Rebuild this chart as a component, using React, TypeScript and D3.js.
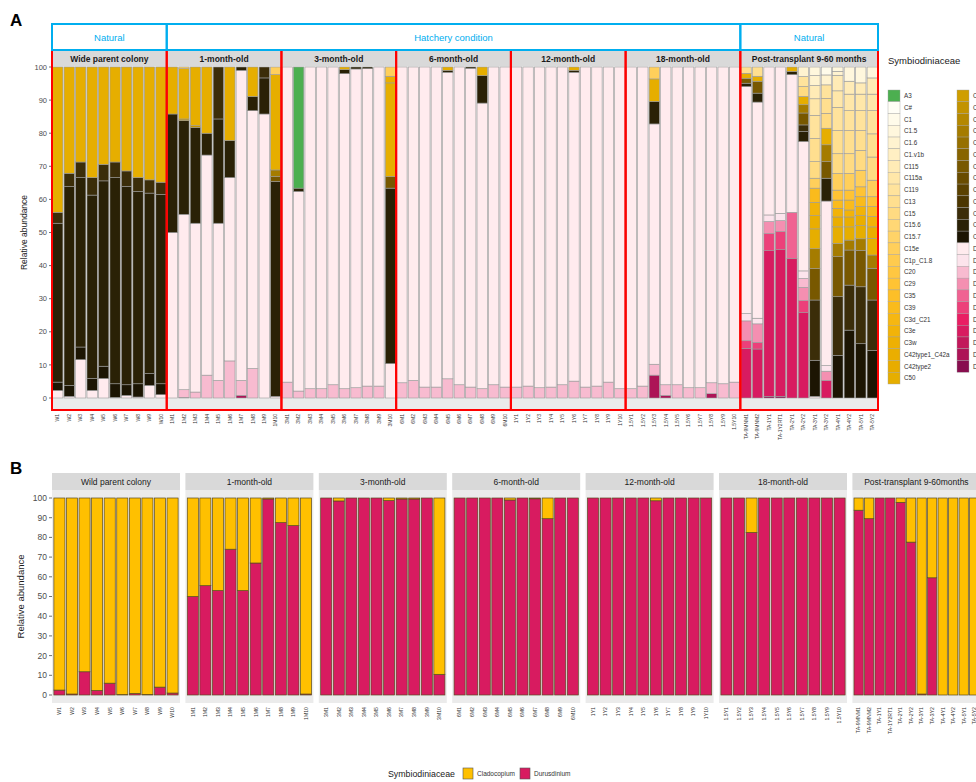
import React from "react";
import * as d3 from "d3";

const FONT = "'Liberation Sans', Arial, Helvetica, sans-serif";

// ---------- Legend (taxa) ----------
const legendCol1 = ["A3", "C#", "C1", "C1.5", "C1.6", "C1.v1b", "C115", "C115a", "C119", "C13", "C15", "C15.6", "C15.7", "C15e", "C1p_C1.8", "C20", "C29", "C35", "C39", "C3d_C21", "C3e", "C3w", "C42type1_C42a", "C42type2", "C50"];
const legendCol1Colors = ["#4CAF50", "#FFFEF6", "#FFFBEA", "#FFF7DD", "#FFF3D0", "#FFEFC3", "#FFEBB6", "#FFE7A9", "#FFE39C", "#FFDF8F", "#FFDB82", "#FFD775", "#FFD368", "#FFCF5B", "#FFCB4E", "#FFC741", "#FFC334", "#FDBF28", "#FABB1C", "#F6B711", "#F2B308", "#EEB003", "#EAAE00", "#E8AC00", "#E6AE00"];
const legendCol2 = ["C50a", "C6", "C65", "C66", "C7", "C72", "C78", "C8", "C8a", "C90", "C91", "C93", "C95", "D1", "D1a", "D1.4", "D1.6", "D2", "D2.2", "D4", "D4a", "D5", "D6", "D8"];
const legendCol2Colors = ["#CF9E00", "#C29300", "#B48800", "#A57C00", "#967000", "#876400", "#785800", "#694C00", "#5A4100", "#4B3600", "#3B2D09", "#2A2106", "#1C1503", "#FFEBEE", "#FCE4EC", "#F8BBD0", "#F48FB1", "#F06292", "#EC407A", "#E91E63", "#D81B60", "#C2185B", "#AD1457", "#880E4F"];

// ---------- Groups ----------
const groupNamesA = ["Wide parent colony", "1-month-old", "3-month-old", "6-month-old", "12-month-old", "18-month-old", "Post-transplant 9-60 months"];
const groupNamesB = ["Wild parent colony", "1-month-old", "3-month-old", "6-month-old", "12-month-old", "18-month-old", "Post-transplant 9-60months"];
const conditionLabels = ["Natural", "Hatchery condition", "Natural"];

// ---------- Samples ----------
const wildSamples = ["W1", "W2", "W3", "W4", "W5", "W6", "W7", "W8", "W9", "W10"];
const m1Samples = ["1M1", "1M2", "1M3", "1M4", "1M5", "1M6", "1M7", "1M8", "1M9", "1M10"];
const m3Samples = ["3M1", "3M2", "3M3", "3M4", "3M5", "3M6", "3M7", "3M8", "3M9", "3M10"];
const m6Samples = ["6M1", "6M2", "6M3", "6M4", "6M5", "6M6", "6M7", "6M8", "6M9", "6M10"];
const m12Samples = ["1Y1", "1Y2", "1Y3", "1Y4", "1Y5", "1Y6", "1Y7", "1Y8", "1Y9", "1Y10"];
const m18Samples = ["1.5Y1", "1.5Y2", "1.5Y3", "1.5Y4", "1.5Y5", "1.5Y6", "1.5Y7", "1.5Y8", "1.5Y9", "1.5Y10"];
const postSamples = ["TA-9MNM1", "TA-9MNM2", "TA-1Y1", "TA-1Y2RT1", "TA-2Y1", "TA-2Y2", "TA-3Y1", "TA-3Y2", "TA-4Y1", "TA-4Y2", "TA-5Y1", "TA-5Y2"];

type Seg = [string, number];

// ---------- Panel A: ITS2 type profiles (bottom to top) ----------
const wildComp: Seg[][] = [
  [["D1", 2.3], ["C95", 2.5], ["C93", 48], ["C91", 3.3], ["C50", 43.9]],
  [["D1", 0.5], ["C95", 3.3], ["C93", 60.1], ["C91", 4], ["C50", 32.1]],
  [["D1", 11.6], ["C95", 3.8], ["C93", 51.2], ["C91", 4.7], ["C50", 28.7]],
  [["D1", 2.3], ["C95", 3.6], ["C93", 55.4], ["C91", 5.3], ["C50", 33.4]],
  [["D1", 5.9], ["C95", 3.7], ["C93", 56], ["C91", 5], ["C50", 29.4]],
  [["D1", 0.2], ["C95", 4.1], ["C93", 62.3], ["C91", 4.7], ["C50", 28.7]],
  [["D1", 0.8], ["C95", 3.2], ["C93", 59.9], ["C91", 4.7], ["C50", 31.4]],
  [["D1", 0.3], ["C95", 4], ["C93", 58.1], ["C91", 4.2], ["C50", 33.4]],
  [["D1", 3.8], ["C95", 3.6], ["C93", 54.5], ["C91", 4], ["C50", 34.1]],
  [["D1", 1], ["C95", 3.3], ["C93", 57.2], ["C91", 3.7], ["C50", 34.8]],
];
const m1Comp: Seg[][] = [
  [["D1", 50], ["C93", 35.8], ["C50", 14.2]],
  [["D6", 0.2], ["D1.4", 2.3], ["D1", 53], ["C93", 28.3], ["C6", 0.5], ["C50", 15.2], ["C15e", 0.5]],
  [["D1.4", 1.8], ["D1", 51], ["C93", 28.9], ["C6", 0.6], ["C50", 17.7]],
  [["D1.4", 6.9], ["D1", 66.5], ["C93", 6.6], ["C50", 20]],
  [["D1.4", 5.3], ["D1", 47.5], ["C93", 31.5], ["C91", 15.7]],
  [["D1.4", 11.2], ["D1", 55.4], ["C93", 11.2], ["C50", 22.2]],
  [["D6", 0.8], ["D1.4", 4.5], ["D1", 93.7], ["C93", 1]],
  [["D1.4", 8.9], ["D1", 77.9], ["C93", 4.3], ["C50", 8.9]],
  [["D1", 85.8], ["C93", 10.9], ["C91", 3.3]],
  [["D1", 0.5], ["C93", 64.9], ["C78", 1.5], ["C66", 2], ["C50", 28.8], ["C15e", 2.3]],
];
const m3Comp: Seg[][] = [
  [["D1.4", 4.8], ["D1", 95.2]],
  [["D1.4", 2.1], ["D1", 60.3], ["C93", 1], ["A3", 36.6]],
  [["D1.4", 2.8], ["D1", 97.2]],
  [["D1.4", 2.8], ["D1", 97.2]],
  [["D1.4", 4], ["D1", 96]],
  [["D1.4", 2.8], ["D1", 95.2], ["C93", 1.2], ["C50", 0.8]],
  [["D1.4", 3.1], ["D1", 96.3], ["C93", 0.6]],
  [["D1.4", 3.6], ["D1", 95.9], ["C93", 0.5]],
  [["D1.4", 3.6], ["D1", 96.4]],
  [["D1", 10.4], ["C93", 53], ["C78", 3.5], ["C50", 28.3], ["C42type1_C42a", 2], ["C15e", 2.8]],
];
const m6Comp: Seg[][] = [
  [["D1.4", 4.6], ["D1", 95.4]],
  [["D1.4", 5.3], ["D1", 94.7]],
  [["D1.4", 3.3], ["D1", 96.7]],
  [["D1.4", 3.3], ["D1", 96.7]],
  [["D1.4", 5.8], ["D1", 92.6], ["C93", 0.6], ["C50", 1]],
  [["D1.4", 4], ["D1", 96]],
  [["D1.4", 3.3], ["D1", 96.3], ["C93", 0.4]],
  [["D1.4", 2.8], ["D1", 86.3], ["C93", 8.3], ["C50", 2.6]],
  [["D1.4", 4], ["D1", 96]],
  [["D1.4", 3.3], ["D1", 96.7]],
];
const m12Comp: Seg[][] = [
  [["D1.4", 3.3], ["D1", 96.7]],
  [["D1.4", 3.6], ["D1", 96.4]],
  [["D1.4", 3.1], ["D1", 96.9]],
  [["D1.4", 3.3], ["D1", 96.7]],
  [["D1.4", 4], ["D1", 96]],
  [["D1.4", 5.1], ["D1", 93.3], ["C93", 0.6], ["C50", 1]],
  [["D1.4", 3.3], ["D1", 96.7]],
  [["D1.4", 3.6], ["D1", 96.4]],
  [["D1.4", 4.8], ["D1", 95.2]],
  [["D1.4", 2.8], ["D1", 97.2]],
];
const m18Comp: Seg[][] = [
  [["D1.4", 2.8], ["D1", 97.2]],
  [["D1.4", 3.6], ["D1", 96.4]],
  [["D6", 6.9], ["D1.4", 3.3], ["D1", 72.6], ["C93", 6.8], ["C50", 6.8], ["C15e", 3.6]],
  [["D6", 0.8], ["D1.4", 3.2], ["D1", 96]],
  [["D1.4", 4], ["D1", 96]],
  [["D1.4", 3.1], ["D1", 96.9]],
  [["D1.4", 3.1], ["D1", 96.9]],
  [["D6", 1.3], ["D1.4", 3.3], ["D1", 95.4]],
  [["D1.4", 4.3], ["D1", 95.7]],
  [["D1.4", 4.8], ["D1", 95.2]],
];
const postComp: Seg[][] = [
  [["D4a", 15], ["D2.2", 2.3], ["D1.6", 6], ["D1a", 2.2], ["D1", 68.6], ["C93", 1], ["C78", 1.5], ["C50", 1.5], ["C13", 1.9]],
  [["D4a", 14.8], ["D2.2", 2], ["D1.6", 5.6], ["D1a", 1.7], ["D1", 65.3], ["C93", 2.7], ["C78", 3.6], ["C50", 1.5], ["C13", 2.8]],
  [["D8", 0.5], ["D4a", 44], ["D2.2", 5.2], ["D1.6", 3.6], ["D1a", 2], ["D1", 44.7]],
  [["D8", 0.5], ["D4a", 44.3], ["D2.2", 5.5], ["D1.6", 3.3], ["D1a", 2.2], ["D1", 44.2]],
  [["D4a", 42.2], ["D2", 13.9], ["D1", 41.6], ["C93", 1], ["C50", 1.3]],
  [["D4a", 25.8], ["D2.2", 3.6], ["D1.6", 4], ["D1.4", 2.7], ["D1a", 2.3], ["D1", 39.1], ["C93", 3], ["C91", 2], ["C78", 3.6], ["C66", 2.5], ["C50", 2.5], ["C15", 3], ["C119", 3], ["C1.6", 2.9]],
  [["D1", 0.5], ["C95", 10.9], ["C91", 18.2], ["C78", 9.5], ["C66", 6], ["C50", 6], ["C42type1_C42a", 4], ["C3e", 4], ["C39", 4.3], ["C15e", 3], ["C15", 5], ["C13", 7], ["C119", 7], ["C115a", 5], ["C115", 4], ["C1.6", 3], ["C1.5", 2.6]],
  [["D4a", 5.3], ["D1.6", 2.8], ["D1a", 1.7], ["D1", 49.7], ["C93", 6.9], ["C78", 5], ["C66", 5.1], ["C50", 5], ["C15", 4.5], ["C13", 4.5], ["C119", 4.1], ["C1.6", 3], ["C1", 2.4]],
  [["C95", 12.9], ["C91", 17.7], ["C78", 12.1], ["C66", 4], ["C50", 5], ["C42type1_C42a", 3], ["C3e", 2.6], ["C39", 2.5], ["C29", 3], ["C15e", 5], ["C15", 6], ["C13", 7], ["C119", 7], ["C115a", 5], ["C115", 4.7], ["C1.6", 1.2], ["C1.5", 1.3]],
  [["C95", 20.5], ["C91", 13.6], ["C78", 10.6], ["C66", 3], ["C50", 4], ["C42type1_C42a", 3], ["C3e", 2.1], ["C39", 3], ["C29", 3], ["C15e", 5], ["C15", 6], ["C13", 7], ["C119", 6], ["C115a", 5], ["C115", 3.9], ["C1.5", 4.3]],
  [["C95", 16.4], ["C91", 17.2], ["C78", 11], ["C66", 3.5], ["C50", 4], ["C42type1_C42a", 3], ["C3e", 2.7], ["C39", 3], ["C29", 3], ["C15e", 5], ["C15", 6], ["C13", 6], ["C119", 6], ["C115a", 5], ["C115", 3.4], ["C1.5", 4.8]],
  [["C95", 14.4], ["C91", 15.2], ["C78", 9.6], ["C66", 4], ["C50", 5], ["C42type1_C42a", 3.5], ["C3e", 3.1], ["C39", 3], ["C29", 3], ["C15e", 5], ["C15", 7], ["C13", 7], ["C119", 7], ["C115a", 5], ["C115", 4.9], ["C1.5", 3.3]],
];

// ---------- Panel B: genus-level relative abundance (Durusdinium %) ----------
const genera = ["Cladocopium", "Durusdinium"];
const genusColors = ["#FFC000", "#D81B60"];
const wildDurus = [2.5, 0.5, 11.8, 2.3, 6, 0.2, 0.8, 0.3, 4, 1];
const m1Durus = [50, 55.5, 53, 74, 53, 67, 99.5, 87.5, 86, 0.5];
const m3Durus = [100, 98.5, 100, 100, 100, 98.7, 99.5, 99.5, 100, 10.5];
const m6Durus = [100, 100, 100, 100, 99, 100, 99.6, 89.5, 100, 100];
const m12Durus = [100, 100, 100, 100, 100, 98.6, 100, 100, 100, 100];
const m18Durus = [100, 100, 82.5, 100, 100, 100, 100, 100, 100, 100];
const postDurus = [93.8, 89.5, 100, 100, 97.8, 77.6, 0.5, 59.5, 0, 0, 0, 0];

const yTicks = [0, 10, 20, 30, 40, 50, 60, 70, 80, 90, 100];

const taxa = [...legendCol1, ...legendCol2];
const taxaColors = [...legendCol1Colors, ...legendCol2Colors];

export default function App() {
  const color = d3.scaleOrdinal<string, string>().domain(taxa).range(taxaColors);
  const genusColor = d3.scaleOrdinal<string, string>().domain(genera).range(genusColors);

  const groups = [
    { a: groupNamesA[0], b: groupNamesB[0], samples: wildSamples, comp: wildComp, durus: wildDurus },
    { a: groupNamesA[1], b: groupNamesB[1], samples: m1Samples, comp: m1Comp, durus: m1Durus },
    { a: groupNamesA[2], b: groupNamesB[2], samples: m3Samples, comp: m3Comp, durus: m3Durus },
    { a: groupNamesA[3], b: groupNamesB[3], samples: m6Samples, comp: m6Comp, durus: m6Durus },
    { a: groupNamesA[4], b: groupNamesB[4], samples: m12Samples, comp: m12Comp, durus: m12Durus },
    { a: groupNamesA[5], b: groupNamesB[5], samples: m18Samples, comp: m18Comp, durus: m18Durus },
    { a: groupNamesA[6], b: groupNamesB[6], samples: postSamples, comp: postComp, durus: postDurus },
  ];

  // ---------- Panel A scales ----------
  const allSamples = groups.flatMap((g) => g.samples);
  const xA = d3.scaleBand<string>().domain(allSamples).range([52, 878]).paddingInner(0.1).paddingOuter(0.05);
  const yA = d3.scaleLinear().domain([0, 100]).range([398, 67]);
  const bwA = xA.bandwidth();
  const gapA = xA.step() - bwA;
  const bounds = groups.map((g, gi) => {
    const left = gi === 0 ? xA.range()[0] : (xA(g.samples[0]) as number) - gapA / 2;
    const right = gi === groups.length - 1 ? xA.range()[1] : (xA(g.samples[g.samples.length - 1]) as number) + bwA + gapA / 2;
    return [left, right];
  });

  const rows = groups.flatMap((g) =>
    g.samples.map((s, i) => {
      const r: any = { sample: s };
      g.comp[i].forEach(([k, v]) => (r[k] = (r[k] || 0) + v));
      return r;
    })
  );
  const stackKeys = taxa.slice().reverse();
  const series = d3.stack<any>().keys(stackKeys).value((d: any, k: string) => d[k] || 0)(rows);

  const condSpans = [
    [bounds[0][0], bounds[0][1]],
    [bounds[1][0], bounds[5][1]],
    [bounds[6][0], bounds[6][1]],
  ];

  // ---------- Panel B scales ----------
  const yB = d3.scaleLinear().domain([0, 100]).range([695, 498]);
  const panelBW = 128;
  const panelBStep = 133.4;
  const xPanelB = d3.scaleLinear().domain([0, 1]).range([52, 52 + panelBStep]);

  const legStep = 11.76;
  const legY0 = 90;

  return (
    <div style={{ position: "absolute", left: 0, top: 0 }}>
      <svg width={976} height={782} style={{ display: "block", background: "#fff", fontFamily: FONT }}>
        {/* ---------- Panel A ---------- */}
        <text x={10} y={26} fontSize={17} fontWeight="bold" fill="#000">A</text>

        <rect x={52} y={66} width={826} height={344} fill="#EBEBEB" />

        {groups.map((g, gi) => (
          <g key={"sa" + gi}>
            <rect x={bounds[gi][0]} y={51} width={bounds[gi][1] - bounds[gi][0]} height={15} fill="#D9D9D9" />
            <text x={(bounds[gi][0] + bounds[gi][1]) / 2} y={62} fontSize={8.5} fontWeight="bold" fill="#1a1a1a" textAnchor="middle">
              {g.a}
            </text>
          </g>
        ))}

        {series.map((s) =>
          s.map((d, i) => {
            const h = yA(d[0]) - yA(d[1]);
            if (!(d[1] - d[0] > 0)) return null;
            return (
              <rect
                key={s.key + "-" + i}
                x={xA(rows[i].sample)}
                y={yA(d[1])}
                width={bwA}
                height={h}
                fill={color(s.key as string)}
                stroke="#9a9a9a"
                strokeWidth={0.6}
              />
            );
          })
        )}

        {yTicks.map((t) => (
          <g key={"ya" + t}>
            <line x1={49} x2={52} y1={yA(t)} y2={yA(t)} stroke="#333" strokeWidth={0.7} />
            <text x={47} y={yA(t)} dy="0.35em" fontSize={7.5} fill="#4d4d4d" textAnchor="end">{t}</text>
          </g>
        ))}
        <text transform={`translate(27,${(yA(0) + yA(100)) / 2}) rotate(-90)`} fontSize={8.5} fill="#1a1a1a" textAnchor="middle">
          Relative abundance
        </text>

        {allSamples.map((s) => (
          <text
            key={"xa" + s}
            transform={`translate(${(xA(s) as number) + bwA / 2},414) rotate(-90)`}
            dy="0.35em"
            fontSize={5}
            fill="#333"
            textAnchor="end"
          >
            {s}
          </text>
        ))}

        {bounds.map((b, gi) => (
          <rect key={"rf" + gi} x={b[0]} y={50} width={b[1] - b[0]} height={360} fill="none" stroke="#FF0000" strokeWidth={2} />
        ))}

        {condSpans.map((c, ci) => (
          <g key={"cb" + ci}>
            <rect x={c[0]} y={24} width={c[1] - c[0]} height={26} fill="none" stroke="#00AEEF" strokeWidth={2} />
            <text x={(c[0] + c[1]) / 2} y={41} fontSize={9.5} fill="#00AEEF" textAnchor="middle">
              {conditionLabels[ci]}
            </text>
          </g>
        ))}

        <text x={888} y={64} fontSize={9.5} fill="#1a1a1a">Symbiodiniaceae</text>
        {legendCol1.map((k, i) => (
          <g key={"l1" + k}>
            <rect x={888} y={legY0 + i * legStep} width={12} height={legStep} fill={color(k)} stroke="#a0a0a0" strokeWidth={0.4} />
            <text x={904} y={legY0 + i * legStep + legStep / 2} dy="0.35em" fontSize={6.3} fill="#333">{k}</text>
          </g>
        ))}
        {legendCol2.map((k, i) => (
          <g key={"l2" + k}>
            <rect x={957} y={legY0 + i * legStep} width={12} height={legStep} fill={color(k)} stroke="#a0a0a0" strokeWidth={0.4} />
            <text x={973} y={legY0 + i * legStep + legStep / 2} dy="0.35em" fontSize={6.3} fill="#333">{k}</text>
          </g>
        ))}

        {/* ---------- Panel B ---------- */}
        <text x={10} y={474} fontSize={17} fontWeight="bold" fill="#000">B</text>

        {groups.map((g, gi) => {
          const x0 = xPanelB(gi);
          const xb = d3.scaleBand<string>().domain(g.samples).range([x0, x0 + panelBW]).paddingInner(0.12).paddingOuter(0.15);
          const bw = xb.bandwidth();
          const rowsB = g.samples.map((s, i) => ({ sample: s, Durusdinium: g.durus[i], Cladocopium: 100 - g.durus[i] }));
          const stB = d3.stack<any>().keys(["Durusdinium", "Cladocopium"])(rowsB);
          return (
            <g key={"pb" + gi}>
              <rect x={x0} y={473} width={panelBW} height={17} fill="#D9D9D9" />
              <text x={x0 + panelBW / 2} y={485} fontSize={8.5} fill="#1a1a1a" textAnchor="middle">{g.b}</text>
              <rect x={x0} y={490} width={panelBW} height={213} fill="#EBEBEB" />
              {stB.map((s) =>
                s.map((d, i) =>
                  d[1] - d[0] > 0 ? (
                    <rect
                      key={s.key + i}
                      x={xb(rowsB[i].sample)}
                      y={yB(d[1])}
                      width={bw}
                      height={yB(d[0]) - yB(d[1])}
                      fill={genusColor(s.key as string)}
                      stroke="#5a4a20"
                      strokeWidth={0.7}
                    />
                  ) : null
                )
              )}
              {g.samples.map((s) => (
                <text
                  key={"xb" + s}
                  transform={`translate(${(xb(s) as number) + bw / 2},707) rotate(-90)`}
                  dy="0.35em"
                  fontSize={5.2}
                  fill="#333"
                  textAnchor="end"
                >
                  {s}
                </text>
              ))}
            </g>
          );
        })}

        {yTicks.map((t) => (
          <g key={"yb" + t}>
            <line x1={49} x2={52} y1={yB(t)} y2={yB(t)} stroke="#333" strokeWidth={0.7} />
            <text x={47} y={yB(t)} dy="0.35em" fontSize={8.5} fill="#4d4d4d" textAnchor="end">{t}</text>
          </g>
        ))}
        <text transform={`translate(24,${(yB(0) + yB(100)) / 2}) rotate(-90)`} fontSize={9.5} fill="#1a1a1a" textAnchor="middle">
          Relative abundance
        </text>

        <text x={388} y={777} fontSize={8.8} fill="#1a1a1a">Symbiodiniaceae</text>
        {genera.map((k, i) => (
          <g key={"lb" + k}>
            <rect x={463 + i * 57} y={768} width={10} height={11} fill={genusColor(k)} stroke="#555" strokeWidth={0.6} />
            <text x={477 + i * 57} y={774} dy="0.35em" fontSize={6.5} fill="#333">{k}</text>
          </g>
        ))}
      </svg>
    </div>
  );
}
